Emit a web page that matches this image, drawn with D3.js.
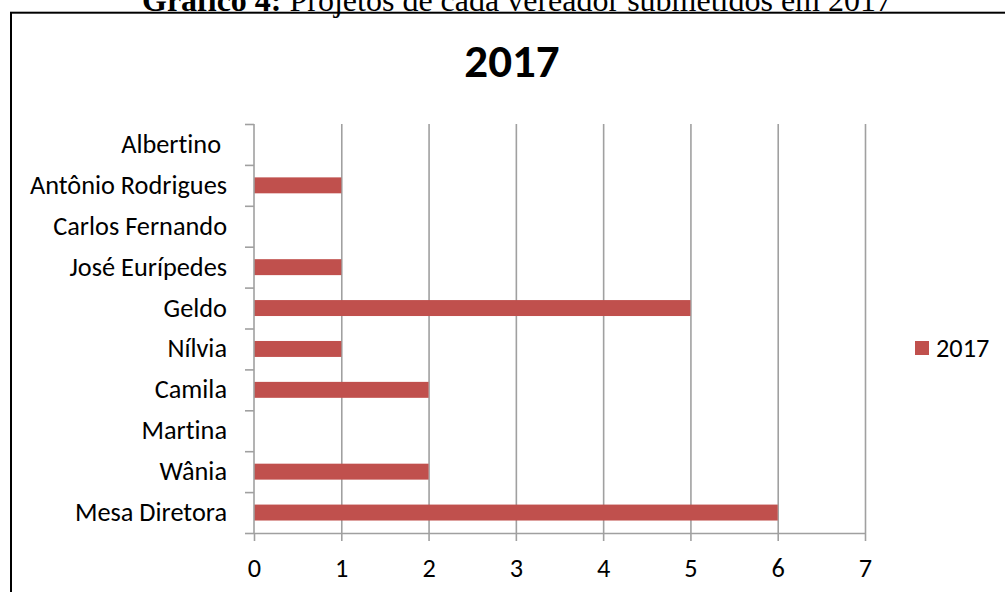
<!DOCTYPE html>
<html>
<head>
<meta charset="utf-8">
<script src="https://cdn.jsdelivr.net/npm/d3@7"></script>
<style>
    body{margin:0;background:#fff;}
    svg{display:block;}
    text{font-family:Carlito,Calibri,Lato,sans-serif;font-variant-ligatures:none;}
</style>
</head>
<body>
<svg id="drawing_region"></svg>
<script>
// data
const names = ["Albertino ","Antônio Rodrigues","Carlos Fernando","José Eurípedes","Geldo","Nílvia","Camila","Martina","Wânia","Mesa Diretora"];
const values2017 = [0,1,0,1,5,1,2,0,2,6];
const xticks = [0,1,2,3,4,5,6,7];
const seriesName = "2017";
const caption_bold = "Gráfico 4:";
const caption_rest = " Projetos de cada vereador submetidos em 2017";

class BarChart{
    constructor(config,data){
        this.config={
            parent:config.parent,
            width:config.width||1005,
            height:config.height||592,
            margin:config.margin||{top:124,left:254,bottom:59,right:140}
        };
        this.data = data;
        this.init()
    };

    init(){
        let self = this;
        self.inner_width = self.config.width-self.config.margin.left-self.config.margin.right;
        self.inner_height = self.config.height-self.config.margin.top-self.config.margin.bottom;

        self.svg = d3.select(self.config.parent)
            .attr("width",self.config.width)
            .attr("height",self.config.height)

        // caption from the document, cut off at the top like in the source image
        const cap = self.svg.append("text")
            .attr("x",142)
            .attr("y",11)
            .attr("font-size","32px")
            .style("font-family","'Liberation Serif','Times New Roman',serif")
            .style("white-space","pre")
        cap.append("tspan").attr("font-weight","bold").text(caption_bold)
        cap.append("tspan").text(caption_rest)

        self.svg.append("rect")
            .attr("x",11)
            .attr("y",12.7)
            .attr("width",1100)
            .attr("height",700)
            .attr("fill","none")
            .attr("stroke","black")
            .attr("stroke-width",2)

        self.svg.append("text")
            .attr("x",512)
            .attr("y",77)
            .attr("text-anchor","middle")
            .attr("font-size","47px")
            .attr("font-weight","bold")
            .text(seriesName)

        self.chart = self.svg.append("g")
            .attr("transform",`translate(${self.config.margin.left},${self.config.margin.top})`)

        self.xscale = d3.scaleLinear()
            .domain([0,7])
            .range([0,self.inner_width])
        self.yscale = d3.scaleBand()
            .domain(self.data.map(d=>d.name))
            .range([0,self.inner_height])
        self.yindex = d3.scaleLinear()
            .domain([0,self.data.length])
            .range([0,self.inner_height])
    }

    render(){
        let self = this;
        const grey = "#a0a0a0";
        const fs = "26.3px";

        // vertical gridlines
        const grid = self.chart.append("g")
            .attr("transform",`translate(0,${self.inner_height})`)
            .call(d3.axisBottom(self.xscale).tickValues(xticks.slice(1)).tickSize(-self.inner_height).tickFormat(""))
        grid.select(".domain").remove()
        grid.selectAll("line").attr("stroke",grey).attr("stroke-width",1.6)

        const bh = self.yscale.step()*0.39;
        self.chart.selectAll("rect.bar")
            .data(self.data)
            .enter()
            .append("rect")
            .attr("class","bar")
            .attr("x",self.xscale(0))
            .attr("y",d=>self.yscale(d.name)+(self.yscale.step()-bh)/2)
            .attr("width",d=>self.xscale(d.value)-self.xscale(0))
            .attr("height",bh)
            .attr("fill","#C0504D")

        // y axis: ticks on category boundaries
        const yaxis = self.chart.append("g")
            .call(d3.axisLeft(self.yindex).ticks(self.data.length).tickSize(9).tickFormat(""))
        yaxis.selectAll("path,line").attr("stroke",grey).attr("stroke-width",1.6)
        yaxis.select(".domain").attr("d",`M0,0V${self.inner_height}`)

        self.chart.selectAll("text.ylabel")
            .data(self.data)
            .enter()
            .append("text")
            .attr("class","ylabel")
            .attr("x",-27)
            .attr("y",d=>self.yscale(d.name)+self.yscale.step()/2+8.5)
            .attr("text-anchor","end")
            .attr("font-size",fs)
            .attr("fill","black")
            .style("white-space","pre")
            .text(d=>d.name)

        const xaxis = self.chart.append("g")
            .attr("transform",`translate(0,${self.inner_height})`)
            .call(d3.axisBottom(self.xscale).tickValues(xticks).tickFormat(d3.format("d")).tickSize(8).tickSizeOuter(0))
        xaxis.selectAll("path,line").attr("stroke",grey).attr("stroke-width",1.6)
        xaxis.selectAll("text")
            .attr("y",44)
            .attr("dy",0)
            .attr("font-size",fs)
            .attr("font-family","Carlito,Calibri,Lato,sans-serif")
            .attr("fill","black")

        // legend
        const legend = self.svg.append("g")
        legend.append("rect")
            .attr("x",915)
            .attr("y",341)
            .attr("width",14)
            .attr("height",14)
            .attr("fill","#C0504D")
        legend.append("text")
            .attr("x",936)
            .attr("y",357)
            .attr("font-size",fs)
            .attr("fill","black")
            .text(seriesName)
    }
}

const data = names.map((n,i)=>({name:n,value:values2017[i]}));
const bar_chart = new BarChart({parent:"#drawing_region",width:1005,height:592},data);
bar_chart.render();
</script>
</body>
</html>
